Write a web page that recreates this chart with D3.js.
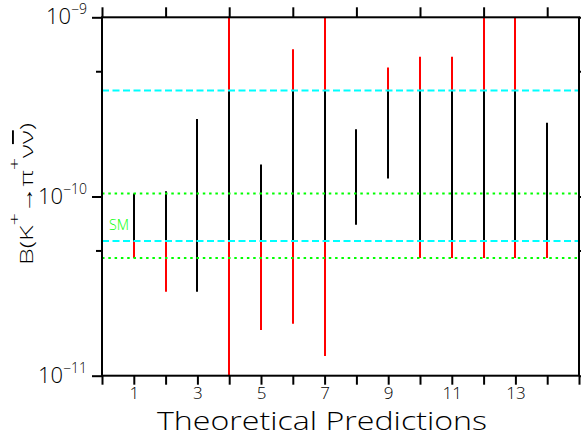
<!DOCTYPE html>
<html>
<head>
<meta charset="utf-8">
<script src="https://cdn.jsdelivr.net/npm/d3@7"></script>
<style>
  html, body { margin: 0; padding: 0; background: #fff; }
  svg { display: block; }
  text { font-family: "Open Sans", "Liberation Sans", sans-serif; font-weight: 300; fill: #000; }
</style>
</head>
<body>
<svg id="chart" width="581" height="438"></svg>
<script>
// ---- data ----
const predictions = [1, 2, 3, 4, 5, 6, 7, 8, 9, 10, 11, 12, 13, 14];
const predLow  = [4.54e-11, 2.94e-11, 2.94e-11, 1.0e-11, 1.80e-11, 1.95e-11, 1.29e-11, 6.95e-11, 1.26e-10, 4.54e-11, 4.54e-11, 4.54e-11, 4.54e-11, 4.54e-11];
const predHigh = [1.04e-10, 1.07e-10, 2.71e-10, 1.0e-9, 1.51e-10, 6.63e-10, 1.0e-9, 2.37e-10, 5.24e-10, 6.03e-10, 6.03e-10, 1.0e-9, 1.0e-9, 2.58e-10];
const blackLow  = [5.65e-11, 5.65e-11, 2.94e-11, 5.65e-11, 5.65e-11, 5.65e-11, 5.65e-11, 6.95e-11, 1.26e-10, 5.65e-11, 5.65e-11, 5.65e-11, 5.65e-11, 5.65e-11];
const blackHigh = [1.04e-10, 1.07e-10, 2.71e-10, 3.9e-10, 1.51e-10, 3.9e-10, 3.9e-10, 2.37e-10, 3.9e-10, 3.9e-10, 3.9e-10, 3.9e-10, 3.9e-10, 2.58e-10];
const expBand = [5.65e-11, 3.9e-10];   // cyan dashed
const smBand  = [4.54e-11, 1.04e-10];  // green dotted
const xTickLabels = [1, 3, 5, 7, 9, 11, 13];
const yMajor = [1e-11, 1e-10, 1e-9];
const yMajorExp = ["\u221211", "\u221210", "\u22129"];
const yMinor = [5e-11, 5e-10];

// ---- layout ----
const L = 102, R = 579, T = 17.3, B = 375.7;
const svg = d3.select("#chart");
const x = d3.scaleLinear().domain([0, 15]).range([L, R]);
const y = d3.scaleLog().domain([1e-11, 1e-9]).range([B, T]);
const px = d => Math.round(x(d));

// bars: red parts outside the black part, black part
const g = svg.append("g");
const redSegs = [];
predictions.forEach((p, i) => {
  if (predLow[i] < blackLow[i]) redSegs.push([p, predLow[i], blackLow[i]]);
  if (predHigh[i] > blackHigh[i]) redSegs.push([p, blackHigh[i], predHigh[i]]);
});
g.selectAll("line.red").data(redSegs).join("line")
  .attr("x1", d => px(d[0])).attr("x2", d => px(d[0]))
  .attr("y1", d => y(d[1])).attr("y2", d => y(d[2]))
  .attr("stroke", "#ff0000").attr("stroke-width", 2);
g.selectAll("line.black").data(predictions).join("line")
  .attr("x1", d => px(d)).attr("x2", d => px(d))
  .attr("y1", (d, i) => y(blackLow[i])).attr("y2", (d, i) => y(blackHigh[i]))
  .attr("stroke", "#000").attr("stroke-width", 2);

// reference lines
svg.selectAll("line.exp").data(expBand).join("line")
  .attr("x1", L).attr("x2", R).attr("y1", d => y(d)).attr("y2", d => y(d))
  .attr("stroke", "#00ffff").attr("stroke-width", 2).attr("stroke-dasharray", "7,3.5");
svg.selectAll("line.sm").data(smBand).join("line")
  .attr("x1", L).attr("x2", R).attr("y1", d => y(d)).attr("y2", d => y(d))
  .attr("stroke", "#00ff00").attr("stroke-width", 2).attr("stroke-dasharray", "2.5,3.8");

svg.append("text").attr("x", 109).attr("y", 230)
  .attr("font-size", 15).attr("textLength", 20).attr("lengthAdjust", "spacingAndGlyphs")
  .style("fill", "#00ff00").text("SM");

// axes
const axStyle = sel => {
  sel.selectAll(".domain").remove();
  sel.selectAll(".tick line").attr("stroke", "#000").attr("stroke-width", 2);
};
const xBottom = d3.axisBottom(x).tickValues(d3.range(0, 16)).tickSize(9)
  .tickFormat(d => xTickLabels.includes(d) ? d : "");
const xb = svg.append("g").attr("transform", `translate(0,${B})`).call(xBottom).call(axStyle);
xb.selectAll("text").attr("font-size", 17).attr("dy", null).attr("y", 23.8)
  .style("font-family", "'Open Sans', sans-serif").style("font-weight", 300);

const xTop = d3.axisTop(x).tickValues(d3.range(0, 15, 2)).tickSize(10).tickFormat("");
svg.append("g").attr("transform", `translate(0,${T})`).call(xTop).call(axStyle);

const yLeftMaj = d3.axisLeft(y).tickValues(yMajor).tickSize(10).tickFormat("");
svg.append("g").attr("transform", `translate(${L},0)`).call(yLeftMaj).call(axStyle);
const yLeftMin = d3.axisLeft(y).tickValues(yMinor).tickSize(6).tickFormat("");
svg.append("g").attr("transform", `translate(${L},0)`).call(yLeftMin).call(axStyle);
const yRight = d3.axisRight(y).tickValues(yMajor.concat(yMinor)).tickSize(8).tickFormat("");
svg.append("g").attr("transform", `translate(${R},0)`).call(yRight).call(axStyle);

// frame
svg.append("rect").attr("x", L).attr("y", T).attr("width", R - L).attr("height", B - T)
  .attr("fill", "none").attr("stroke", "#000").attr("stroke-width", 2);

// y tick labels 10^n
yMajor.forEach((v, i) => {
  const t = svg.append("text").attr("x", 87).attr("y", y(v) + 7).attr("text-anchor", "end")
    .attr("font-size", 22);
  t.append("tspan").text("10");
  t.append("tspan").attr("font-size", 14).attr("dy", -10).text(yMajorExp[i]);
});

// axis titles
svg.append("text").attr("x", 157).attr("y", 430.3).attr("font-size", 26)
  .attr("textLength", 330).attr("lengthAdjust", "spacingAndGlyphs")
  .text("Theoretical Predictions");

const yl = svg.append("text").attr("transform", "translate(33,265) rotate(-90)")
  .attr("font-size", 19).attr("textLength", 142).attr("lengthAdjust", "spacingAndGlyphs");
yl.append("tspan").text("B(K");
yl.append("tspan").attr("font-size", 15).attr("dy", -13).text("+");
yl.append("tspan").attr("dy", 13).text("\u2192\u03c0");
yl.append("tspan").attr("font-size", 15).attr("dy", -13).text("+");
yl.append("tspan").attr("dy", 13).text("\u03bd");
yl.append("tspan").style("text-decoration", "overline").text("\u03bd");
yl.append("tspan").text(")");
</script>
</body>
</html>
